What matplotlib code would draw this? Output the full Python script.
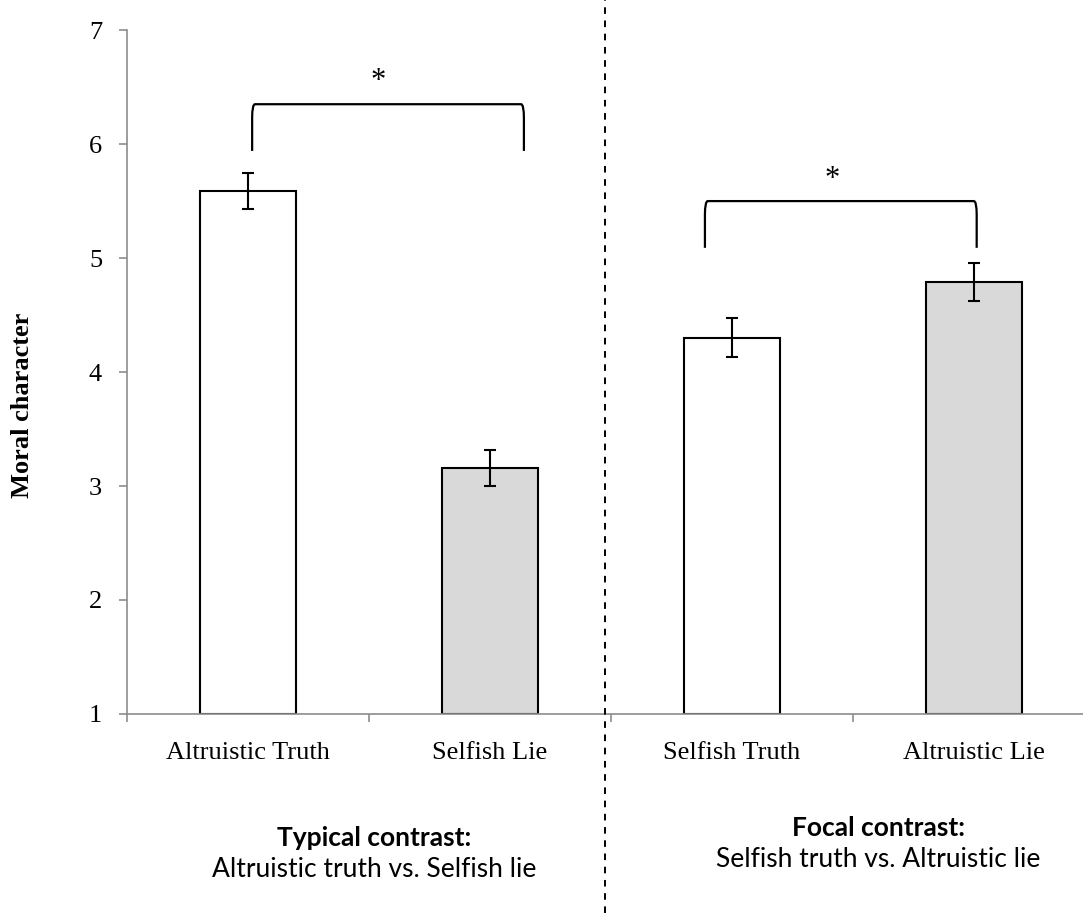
import numpy as np
import matplotlib
matplotlib.use("Agg")
import matplotlib.pyplot as plt
from matplotlib.path import Path
from matplotlib.patches import PathPatch
from matplotlib.lines import Line2D
import matplotlib.transforms as mtransforms

# data
conditions = ["Altruistic Truth", "Selfish Lie", "Selfish Truth", "Altruistic Lie"]
means = [5.59, 3.16, 4.30, 4.79]
errors = [0.16, 0.16, 0.17, 0.17]
fills = ["white", "#d9d9d9", "white", "#d9d9d9"]
group_titles = ["Typical contrast:", "Focal contrast:"]
group_subtitles = ["Altruistic truth vs. Selfish lie", "Selfish truth vs. Altruistic lie"]

serif = ["Liberation Serif", "DejaVu Serif"]
sans = ["Lato", "DejaVu Sans"]
axis_grey = "#8c8c8c"

fig = plt.figure(figsize=(10.83, 9.13), dpi=100)
ax = fig.add_axes([0.1173, 0.218, 0.8938, 0.749])

x = np.arange(len(conditions))
ax.bar(x, np.array(means) - 1, bottom=1, width=0.4, color=fills,
       edgecolor="black", linewidth=1.5, zorder=2)
ax.errorbar(x, means, yerr=errors, fmt="none", ecolor="black",
            elinewidth=1.5, capsize=4.5, capthick=1.5, zorder=3)

ax.set_xlim(-0.5, 3.5)
ax.set_ylim(1, 7)
ax.set_yticks(range(1, 8))
ax.set_xticks(x)
ax.set_xticklabels(conditions, fontsize=19, family=serif)
ax.set_xticks(np.arange(-0.5, 4.0, 1.0), minor=True)
ax.tick_params(axis="x", which="major", length=0, pad=20)
ax.tick_params(axis="x", which="minor", length=6, width=1.2, color=axis_grey,
               direction="out")
ax.tick_params(axis="y", length=6, width=1.2, color=axis_grey, pad=12,
               labelsize=19)
for lab in ax.get_yticklabels():
    lab.set_family(serif)

for side in ["top", "right"]:
    ax.spines[side].set_visible(False)
for side in ["left", "bottom"]:
    ax.spines[side].set_color(axis_grey)
    ax.spines[side].set_linewidth(1.2)


def bracket(x0, x1, ytop, ybot, dx=0.012, dy=0.12):
    verts = [(x0, ybot), (x0, ytop - dy), (x0, ytop), (x0 + dx, ytop),
             (x1 - dx, ytop), (x1, ytop), (x1, ytop - dy), (x1, ybot)]
    codes = [Path.MOVETO, Path.LINETO, Path.CURVE3, Path.CURVE3,
             Path.LINETO, Path.CURVE3, Path.CURVE3, Path.LINETO]
    ax.add_patch(PathPatch(Path(verts, codes), fill=False, lw=1.6,
                           edgecolor="black", clip_on=False, zorder=4))


bracket(0.017, 1.14, 6.35, 5.94)
ax.text(0.537, 6.55, "*", ha="center", va="center", fontsize=22, family=serif)
bracket(1.888, 3.011, 5.50, 5.09)
ax.text(2.412, 5.69, "*", ha="center", va="center", fontsize=22, family=serif)

# dashed divider across the whole figure
trans = mtransforms.blended_transform_factory(ax.transData, fig.transFigure)
fig.add_artist(Line2D([1.475, 1.475], [0, 1], transform=trans, color="black",
                      lw=1.4, linestyle=(0, (3.4, 3.4))))

fig.text(23 / 1083, 1 - 405 / 913, "Moral character", rotation=90,
         ha="center", va="center", fontsize=19, fontweight="bold", family=serif)

# group captions below the axis
fig.text(374 / 1083, 1 - 838 / 913, group_titles[0], ha="center", va="center",
         fontsize=19, fontweight="bold", family=sans)
fig.text(374 / 1083, 1 - 869 / 913, group_subtitles[0], ha="center",
         va="center", fontsize=19, family=sans)
fig.text(878 / 1083, 1 - 828 / 913, group_titles[1], ha="center", va="center",
         fontsize=19, fontweight="bold", family=sans)
fig.text(878 / 1083, 1 - 859 / 913, group_subtitles[1], ha="center",
         va="center", fontsize=19, family=sans)

fig.savefig("out.png", dpi=100)
